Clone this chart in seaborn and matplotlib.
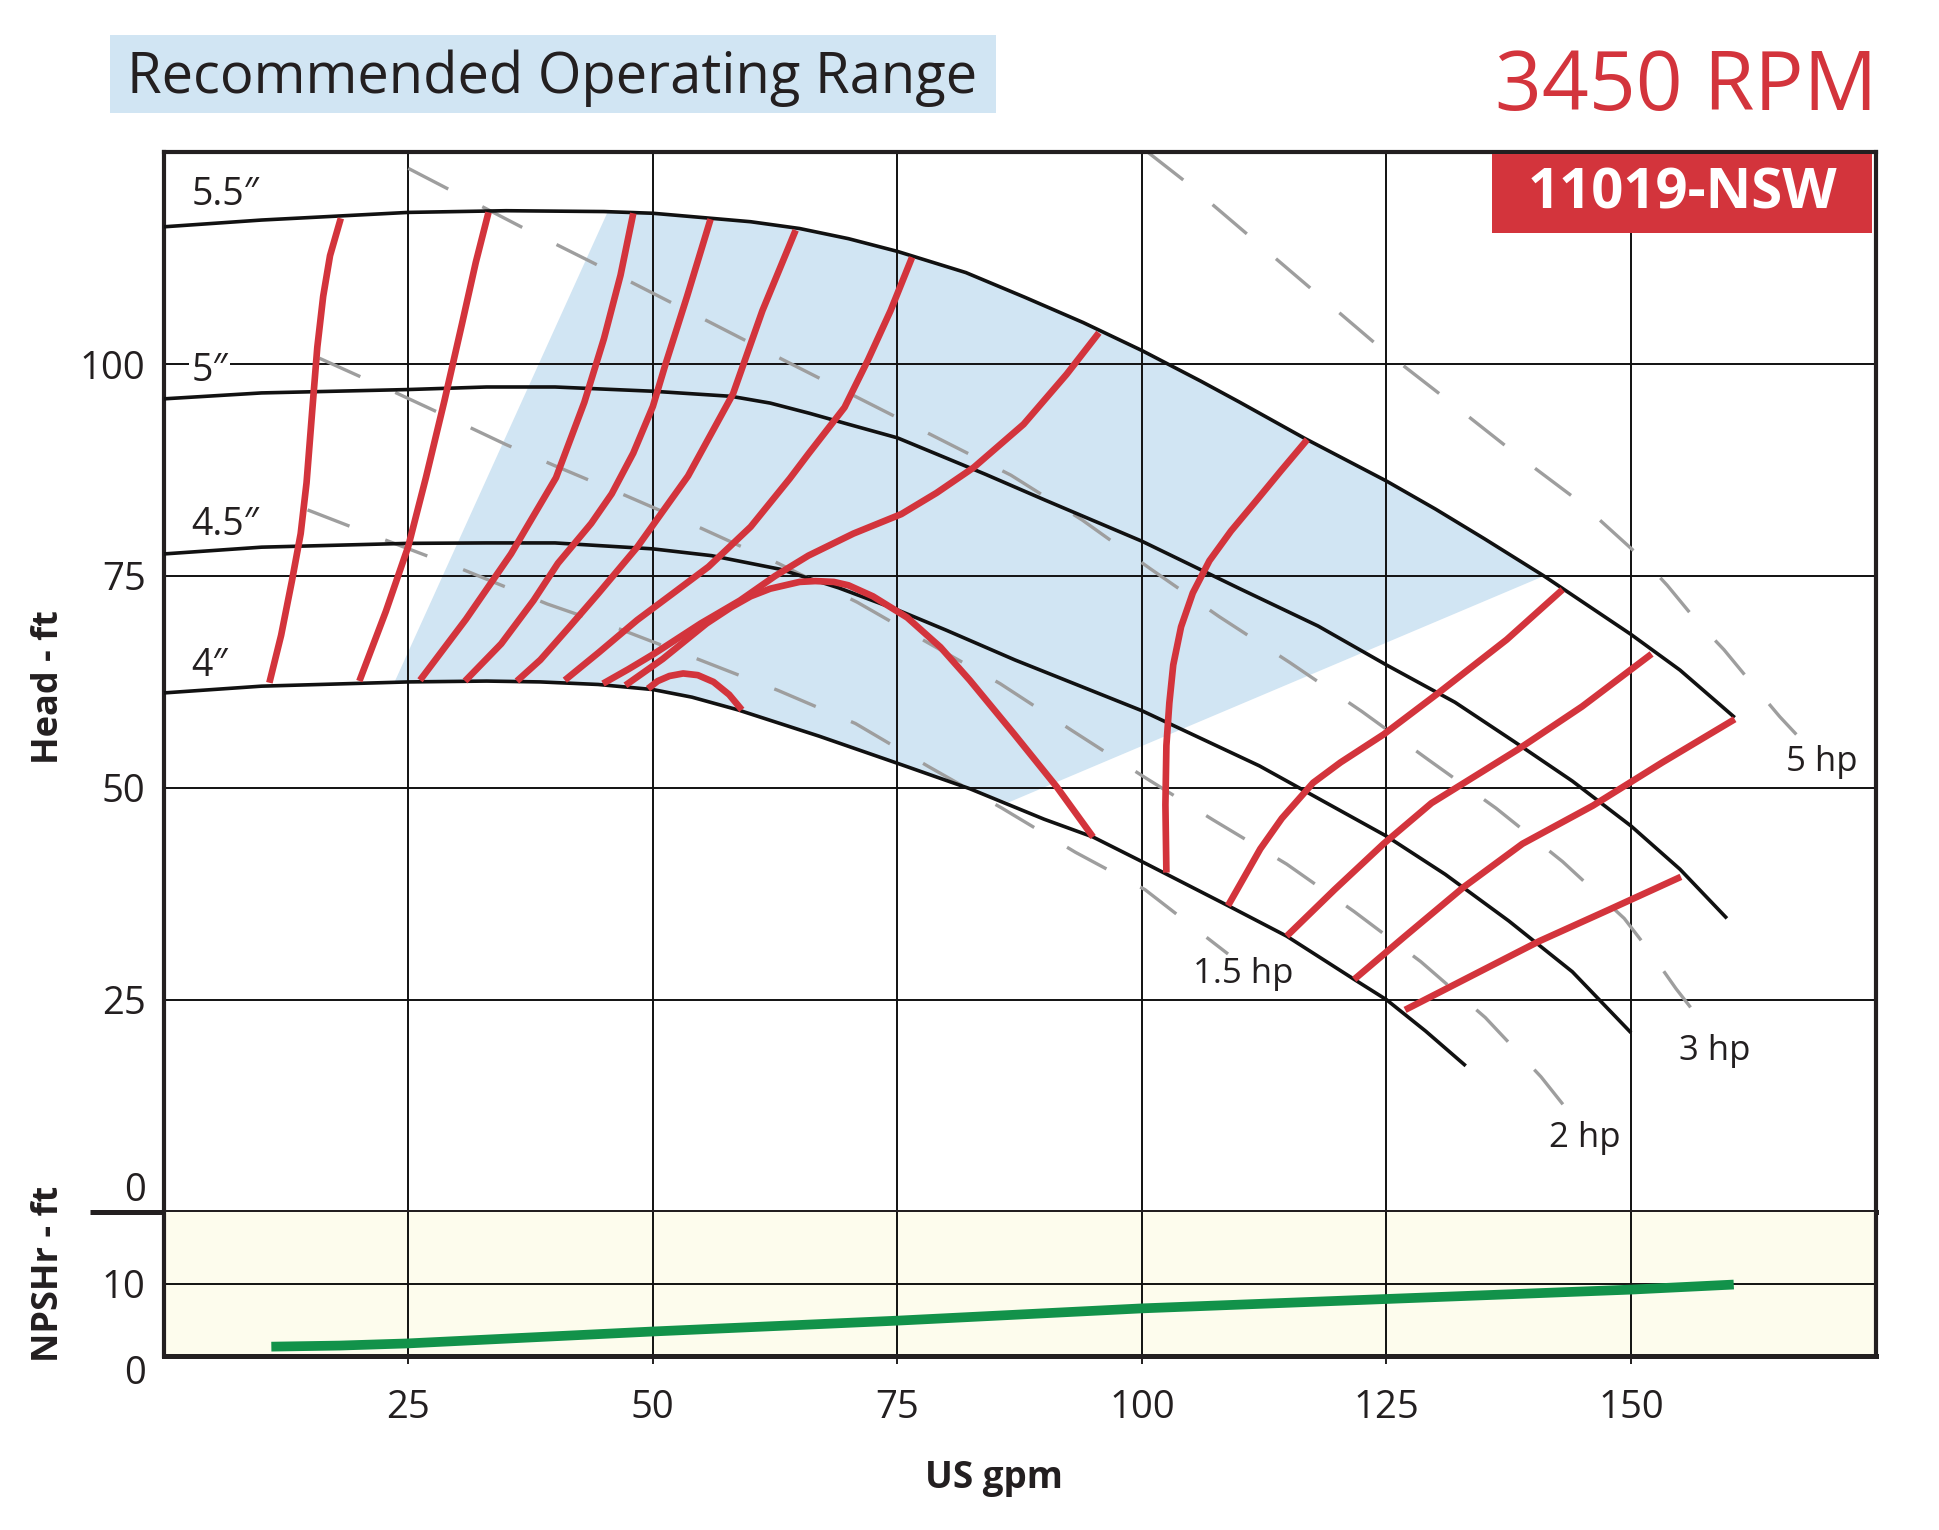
import numpy as np
import pandas as pd
import matplotlib
matplotlib.use("Agg")
import matplotlib.pyplot as plt
import seaborn as sns
from matplotlib.patches import Rectangle
from matplotlib.lines import Line2D
from matplotlib.transforms import ScaledTranslation

# ---------------- data ----------------
gpm_ticks = [25, 50, 75, 100, 125, 150]
head_ticks = [0, 25, 50, 75, 100]
npsh_ticks = [0, 10]

# impeller diameter curves (US gpm, head ft)
imp_55_x = [0, 10, 25, 35, 45, 50, 60, 65, 70, 75, 82, 88, 94, 100, 106, 110, 116.7, 125, 130, 135, 141.1, 146, 150, 155, 160.6]
imp_55_y = [116.2, 117.0, 117.9, 118.1, 118.0, 117.8, 116.8, 116.0, 114.8, 113.3, 110.8, 107.9, 104.9, 101.6, 98.0, 95.5, 91.2, 86.2, 82.9, 79.4, 75.0, 71.2, 68.1, 63.9, 58.3]
imp_5_x = [0, 10, 25, 33, 40, 50, 58, 62, 66, 70, 75, 84, 90, 100, 110, 118, 125, 132, 138, 144, 150, 155, 159.8]
imp_5_y = [95.9, 96.6, 97.0, 97.3, 97.3, 96.8, 96.2, 95.4, 94.2, 92.9, 91.3, 87.0, 84.0, 79.1, 73.5, 69.1, 64.5, 60.1, 55.5, 50.8, 45.5, 40.4, 34.6]
imp_45_x = [0, 10, 25, 33, 40, 50, 56, 63, 69, 75, 80, 87, 100, 112, 125, 131, 137.5, 144, 150]
imp_45_y = [77.6, 78.4, 78.85, 78.9, 78.9, 78.2, 77.4, 75.8, 73.6, 71.0, 68.6, 65.1, 59.1, 52.6, 44.3, 39.8, 34.3, 28.3, 21.1]
imp_4_x = [0, 10, 25, 33, 38.5, 44.4, 50, 54, 58.7, 67, 75, 82.4, 90, 95, 100, 108.8, 114.8, 121.7, 125, 129, 133.1]
imp_4_y = [61.2, 62.0, 62.5, 62.6, 62.5, 62.2, 61.6, 60.7, 59.2, 56.1, 52.9, 49.9, 46.3, 44.2, 41.3, 36.1, 32.5, 27.4, 25.0, 21.3, 17.2]
imp_labels = ["5.5\u2033", "5\u2033", "4.5\u2033", "4\u2033"]

# iso-power lines (dashed grey)
hp15_x = [14.7, 22.3, 30.5, 39.2, 46.7, 54.8, 62.8, 70.7, 78.2, 85.7, 93.2, 100.3, 104.1, 108.8]
hp15_y = [82.8, 79.4, 75.8, 71.7, 68.7, 65.1, 61.5, 57.6, 52.5, 47.6, 42.4, 38.0, 34.6, 30.4]
hp2_x = [15.9, 23.4, 27.5, 35, 40, 47.2, 55, 62.8, 70.9, 77.7, 85.5, 92.8, 100.2, 107.3, 114.8, 121.7, 128.5, 135.1, 140.8, 143.9]
hp2_y = [100.7, 96.8, 94.6, 90.5, 88.0, 84.5, 80.6, 76.5, 71.9, 67.4, 62.3, 56.8, 51.3, 46.2, 41.0, 35.4, 29.5, 22.9, 15.9, 11.4]
hp3_x = [25, 36.7, 44.5, 55.9, 63.5, 71.2, 78.9, 86.6, 93.9, 100.8, 107.9, 115.1, 122.5, 129.3, 136.2, 143, 149.3, 152.1, 154.6, 157.3]
hp3_y = [123.1, 116.1, 111.6, 104.9, 100.4, 95.9, 91.4, 86.9, 81.6, 75.9, 70.2, 64.8, 59.0, 53.3, 47.6, 41.3, 34.6, 30.4, 26.3, 22.3]
hp5_x = [100.6, 104.7, 111.3, 117.9, 124.4, 131.2, 138, 144.8, 151.2, 153.7, 156.7, 159.5, 162.5, 165.2, 166.9]
hp5_y = [125.0, 121.3, 114.8, 108.3, 101.9, 95.8, 89.6, 83.7, 77.0, 73.9, 69.7, 66.3, 62.1, 58.4, 56.3]
hp_labels = ["1.5 hp", "2 hp", "3 hp", "5 hp"]

# efficiency contours (red)
r1_x = [10.8, 12, 13.1, 14.0, 14.6, 15.2, 15.7, 16.3, 17.0, 18.1]
r1_y = [62.4, 68.0, 74.4, 80.0, 86.0, 94.8, 102.0, 108.0, 112.8, 117.2]
r2_x = [20, 22.7, 25, 26.8, 28.7, 30.5, 31.9, 33.2]
r2_y = [62.6, 70.8, 78.5, 86.6, 95.7, 104.8, 112.0, 117.9]
r3_x = [26.2, 30.9, 35.5, 40.1, 43, 45, 46.7, 48]
r3_y = [62.7, 69.9, 77.6, 86.6, 95.5, 103.0, 110.5, 117.8]
r4_x = [30.8, 34.5, 37.8, 40.3, 43.7, 45.8, 48, 50, 51.3, 53.5, 55.9]
r4_y = [62.6, 67.0, 72.1, 76.5, 81.2, 84.7, 89.5, 95.0, 100.0, 108.0, 117.1]
r5_x = [36.1, 38.5, 41.4, 44.4, 48.4, 53.6, 58.2, 61.2, 64.6]
r5_y = [62.6, 65.1, 68.9, 72.9, 78.4, 86.8, 96.5, 106.3, 115.8]
r6_x = [41, 44.5, 48.4, 52, 55.7, 60, 64, 65.9, 69.6, 72, 74.3, 76.5]
r6_y = [62.7, 66.0, 69.8, 72.9, 76.1, 80.8, 86.5, 89.4, 94.9, 100.5, 106.3, 112.6]
r7_x = [44.9, 47.5, 50.1, 54.9, 58.9, 62.5, 65.9, 70.5, 75.4, 79, 82.8, 87.9, 92.3, 95.6]
r7_y = [62.3, 64.0, 65.8, 69.4, 72.1, 75.0, 77.4, 80.0, 82.3, 84.8, 87.8, 92.9, 98.8, 103.7]
r8_x = [47.2, 51, 55.5, 58, 60, 62, 63.5, 65, 66.6, 68.5, 70, 72.5, 76, 79.4, 82.4, 86.9, 91.3, 95]
r8_y = [62.1, 65.2, 69.4, 71.3, 72.6, 73.5, 73.9, 74.3, 74.4, 74.3, 73.9, 72.6, 70.1, 66.6, 62.7, 56.4, 50.1, 44.2]
r9_x = [49.5, 50.5, 51.7, 53.1, 54.6, 56.2, 57.8, 59.1]
r9_y = [61.7, 62.6, 63.2, 63.5, 63.3, 62.5, 61.0, 59.2]
r10_x = [116.9, 114.2, 111.7, 109.1, 106.9, 105.2, 104.0, 103.2, 102.8, 102.5, 102.4, 102.5]
r10_y = [91.1, 87.4, 83.9, 80.3, 76.8, 73.0, 69.0, 64.5, 60.0, 55.0, 48.0, 40.0]
r11_x = [143, 137.3, 130.2, 124.7, 120.3, 117.5, 114.3, 112.1, 108.8]
r11_y = [73.4, 67.5, 61.1, 56.3, 53.0, 50.6, 46.4, 42.8, 36.1]
r12_x = [152.1, 145, 138.4, 129.6, 124.7, 119.7, 114.8]
r12_y = [65.8, 59.6, 54.5, 48.2, 43.4, 38.0, 32.5]
r13_x = [160.6, 153.2, 146.1, 138.9, 132.9, 126.9, 121.7]
r13_y = [58.1, 53.0, 47.9, 43.4, 38.3, 32.5, 27.4]
r14_x = [155.1, 147.7, 140.6, 134, 126.9]
r14_y = [39.5, 35.6, 31.9, 28.0, 23.8]

# recommended operating range polygon
roi_x = [23.6, 45.4, 50, 60, 65, 70, 75, 82, 88, 94, 100, 106, 110, 116.7, 125, 130, 135, 141.1, 86.4, 82.4, 75, 67, 58.7, 54, 50, 44.4, 38.5, 33, 25]
roi_y = [62.5, 118.0, 117.8, 116.8, 116.0, 114.8, 113.3, 110.8, 107.9, 104.9, 101.6, 98.0, 95.5, 91.2, 86.2, 82.9, 79.4, 75.0, 48.3, 49.9, 52.9, 56.1, 59.2, 60.7, 61.6, 62.2, 62.5, 62.6, 62.5]

# NPSH required
npsh_x = [11, 18, 25, 50, 75, 100, 125, 150, 160.5]
npsh_y = [1.3, 1.45, 1.75, 3.4, 4.9, 6.6, 7.9, 9.2, 9.9]

# ---------------- styling ----------------
RED = "#d3343c"
BLACK = "#111111"
GREY = "#9e9e9e"
BLUE = "#d1e5f3"
GREEN = "#12924a"
CREAM = "#fdfced"
TXT = "#231f20"

sns.set_theme(style="white")
plt.rcParams["font.family"] = ["Open Sans", "DejaVu Sans"]
plt.rcParams["text.color"] = TXT

fig = plt.figure(figsize=(19.4, 15.3), dpi=100)
ax = fig.add_axes([0.0844, 0.2081, 0.8824, 0.6924])
axn = fig.add_axes([0.0844, 0.1137, 0.8824, 0.0944])

ax.set_xlim(0, 175)
ax.set_ylim(0, 125)
axn.set_xlim(0, 175)
axn.set_ylim(0, 20)

# operating range
ax.fill(roi_x, roi_y, color=BLUE, lw=0, zorder=0.2)


def curve(a, xs, ys, color, lw, z, dashes=None):
    sns.lineplot(x=xs, y=ys, sort=False, estimator=None, color=color, lw=lw,
                 ax=a, zorder=z, legend=False)
    ln = a.lines[-1]
    ln.set_solid_capstyle("butt")
    ln.set_solid_joinstyle("round")
    if dashes is not None:
        ln.set_dashes(dashes)
        ln.set_dash_capstyle("butt")


for xs, ys in [(hp15_x, hp15_y), (hp2_x, hp2_y), (hp3_x, hp3_y), (hp5_x, hp5_y)]:
    curve(ax, xs, ys, GREY, 2.4, 2, dashes=(13.5, 11.5))

for xs, ys in [(imp_55_x, imp_55_y), (imp_5_x, imp_5_y), (imp_45_x, imp_45_y), (imp_4_x, imp_4_y)]:
    curve(ax, xs, ys, BLACK, 2.6, 3)

for xs, ys in [(r1_x, r1_y), (r2_x, r2_y), (r3_x, r3_y), (r4_x, r4_y), (r5_x, r5_y),
               (r6_x, r6_y), (r7_x, r7_y), (r8_x, r8_y), (r9_x, r9_y), (r10_x, r10_y),
               (r11_x, r11_y), (r12_x, r12_y), (r13_x, r13_y), (r14_x, r14_y)]:
    curve(ax, xs, ys, RED, 4.8, 4)

# NPSH curve
axn.set_facecolor(CREAM)
curve(axn, npsh_x, npsh_y, GREEN, 7.0, 4)

# grids / ticks
for a, yt in [(ax, head_ticks), (axn, npsh_ticks)]:
    a.set_xticks(gpm_ticks)
    a.set_yticks(yt)
    a.set_axisbelow(True)
    a.grid(True, color=BLACK, lw=1.4)
    a.set_xlabel("")
    a.set_ylabel("")
    for s in a.spines.values():
        s.set_visible(True)
        s.set_color(TXT)
        s.set_linewidth(3.0)
    a.tick_params(axis="y", length=0, pad=13, labelsize=27.5, labelcolor=TXT)

ax.spines["bottom"].set_linewidth(3.6)
axn.spines["bottom"].set_linewidth(3.6)
axn.spines["top"].set_visible(False)
ax.tick_params(axis="x", length=0, labelbottom=False)
axn.tick_params(axis="x", length=6, width=1.4, color=TXT, direction="out",
                pad=18, labelsize=27.5, labelcolor=TXT, bottom=True)

ax.set_yticklabels([str(v) for v in head_ticks])
axn.set_yticklabels([str(v) for v in npsh_ticks])
axn.set_xticklabels([str(v) for v in gpm_ticks])
lab0 = ax.get_yticklabels()[0]
lab0.set_transform(lab0.get_transform() + ScaledTranslation(0, 0.25, fig.dpi_scale_trans))
labn0 = axn.get_yticklabels()[0]
labn0.set_transform(labn0.get_transform() + ScaledTranslation(0, -0.13, fig.dpi_scale_trans))

# separator extension to the left
fig.add_artist(Line2D([90 / 1940, 0.0844], [0.2081, 0.2081], transform=fig.transFigure,
                      color=TXT, lw=3.6, solid_capstyle="butt"))

# impeller labels
ax.text(2.8, 119.9, imp_labels[0], fontsize=27, ha="left", va="center", zorder=2.5)
ax.text(2.8, 99.2, imp_labels[1], fontsize=27, ha="left", va="center", zorder=2.5,
        bbox=dict(fc="white", ec="none", pad=1.5))
ax.text(2.8, 81.0, imp_labels[2], fontsize=27, ha="left", va="center", zorder=2.5)
ax.text(2.8, 64.4, imp_labels[3], fontsize=27, ha="left", va="center", zorder=2.5)

# hp labels
ax.text(105.2, 28.0, hp_labels[0], fontsize=25, ha="left", va="center", zorder=5)
ax.text(141.6, 8.7, hp_labels[1], fontsize=25, ha="left", va="center", zorder=5)
ax.text(154.9, 19.0, hp_labels[2], fontsize=25, ha="left", va="center", zorder=5)
ax.text(165.8, 53.1, hp_labels[3], fontsize=25, ha="left", va="center", zorder=5)

# model box
ax.add_patch(Rectangle((0.776, 0.9237), 0.222, 0.0746, transform=ax.transAxes,
                       fc=RED, ec="none", zorder=10, clip_on=False))
ax.text(0.887, 0.961, "11019-NSW", transform=ax.transAxes, ha="center", va="center",
        color="white", fontsize=40.5, fontweight="bold", zorder=11)

# header
fig.patches.append(Rectangle((0.0565, 0.9261), 0.4569, 0.051, transform=fig.transFigure,
                             fc=BLUE, ec="none", zorder=0))
fig.text(0.0657, 0.939, "Recommended Operating Range", fontsize=40.4, color=TXT, va="baseline")
fig.text(0.9675, 0.9281, "3450 RPM", fontsize=59, color=RED, ha="right", va="baseline")

# axis titles
fig.text(0.0253, 0.551, "Head - ft", rotation=90, fontsize=26, fontweight="bold",
         ha="center", va="center")
fig.text(0.0253, 0.1673, "NPSHr - ft", rotation=90, fontsize=26, fontweight="bold",
         ha="center", va="center")
fig.text(0.5121, 0.0337, "US gpm", fontsize=26.5, fontweight="bold", ha="center", va="center")

fig.savefig("out.png", dpi=100, facecolor="white")
